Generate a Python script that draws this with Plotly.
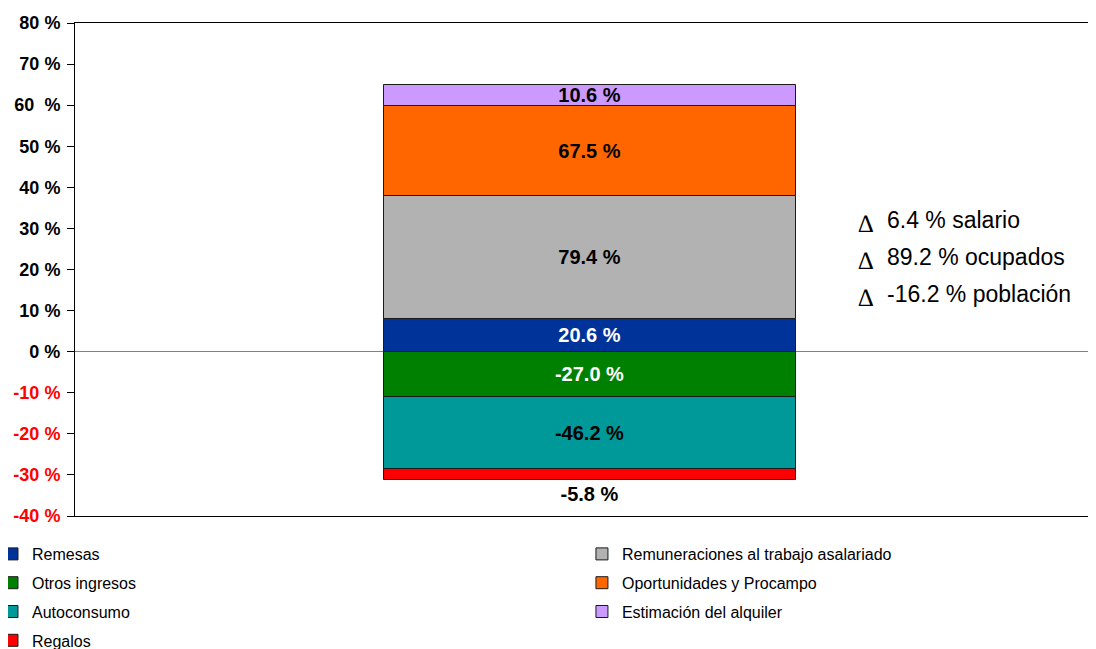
import plotly.graph_objects as go

# Segment heights (percentage points on the axis) and the contribution labels
series = [
    "Remesas",
    "Remuneraciones al trabajo asalariado",
    "Oportunidades y Procampo",
    "Estimación del alquiler",
    "Otros ingresos",
    "Autoconsumo",
    "Regalos",
]
heights = [8.0, 29.9, 21.9, 5.1, -11.1, -17.5, -2.6]
labels = ["20.6 %", "79.4 %", "67.5 %", "10.6 %", "-27.0 %", "-46.2 %", "-5.8 %"]
colors = ["#003399", "#B2B2B2", "#FF6600", "#CC99FF", "#008000", "#009999", "#FF0000"]
text_colors = ["white", "black", "black", "black", "white", "black", "black"]
legend_col = ["legend", "legend2", "legend2", "legend2", "legend", "legend", "legend"]

tick_vals = [80, 70, 60, 50, 40, 30, 20, 10, 0, -10, -20, -30, -40]
tick_text = ["80 %", "70 %", "60  %", "50 %", "40 %", "30 %", "20 %", "10 %", "0 %",
             "-10 %", "-20 %", "-30 %", "-40 %"]

notes = ["6.4 % salario", "89.2 % ocupados", "-16.2 % población"]
note_y = [32, 23, 14]

FONT = "Liberation Sans, Arial, sans-serif"

fig = go.Figure()
for i, name in enumerate(series):
    fig.add_trace(go.Bar(
        x=[""], y=[heights[i]],
        name=name,
        marker=dict(color=colors[i], line=dict(color="#1a1a1a", width=1)),
        text=[labels[i]],
        textposition="outside" if name == "Regalos" else "inside",
        insidetextanchor="middle",
        constraintext="none",
        textfont=dict(family=FONT, size=20, color=text_colors[i], weight="bold"),
        outsidetextfont=dict(family=FONT, size=20, color=text_colors[i], weight="bold"),
        cliponaxis=False,
        width=0.404,
        legend=legend_col[i],
        legendgroup=name,
        hoverinfo="skip",
    ))

ticktext_col = [
    f'<span style="color:#FF0000">{t}</span>' if v < 0 else t
    for v, t in zip(tick_vals, tick_text)
]

# delta notes: serif delta sign + sans text
for t, y in zip(notes, note_y):
    fig.add_annotation(
        x=0.766, y=y, xref="paper", yref="y", xanchor="left",
        text="∆", showarrow=False, yshift=-3,
        font=dict(family="Liberation Serif, Times New Roman, serif", size=25, color="black"),
    )
    fig.add_annotation(
        x=0.794, y=y, xref="paper", yref="y", xanchor="left",
        text=t, showarrow=False,
        font=dict(family=FONT, size=23, color="black"),
    )

legend_common = dict(
    font=dict(family=FONT, size=16, color="black"),
    bgcolor="rgba(0,0,0,0)",
    traceorder="grouped",
    tracegroupgap=5,
    yanchor="top",
    itemwidth=30,
)

# the page body adds an 8px offset, so the figure is drawn 8px smaller
fig.update_layout(
    width=1088, height=641,
    barmode="relative",
    bargap=0,
    plot_bgcolor="white",
    paper_bgcolor="white",
    margin=dict(l=67, r=1, t=15, b=133, autoexpand=False),
    showlegend=True,
    legend=dict(x=-0.0814, y=-0.0426, **legend_common),
    legend2=dict(x=0.497, y=-0.0426, **legend_common),
    xaxis=dict(
        range=[-0.505, 0.495],
        showticklabels=False,
        showline=True, mirror=True, linecolor="black", linewidth=1,
        showgrid=False, zeroline=False, ticks="",
    ),
    yaxis=dict(
        range=[-40, 80],
        tickvals=tick_vals,
        ticktext=ticktext_col,
        tickfont=dict(family=FONT, size=18, color="black", weight="bold"),
        ticks="outside", ticklen=7, tickcolor="black",
        ticklabelstandoff=3,
        showline=True, mirror=True, linecolor="black", linewidth=1,
        showgrid=False, automargin=False,
        zeroline=True, zerolinecolor="#808080", zerolinewidth=1,
    ),
)

fig.write_html("out.html")
